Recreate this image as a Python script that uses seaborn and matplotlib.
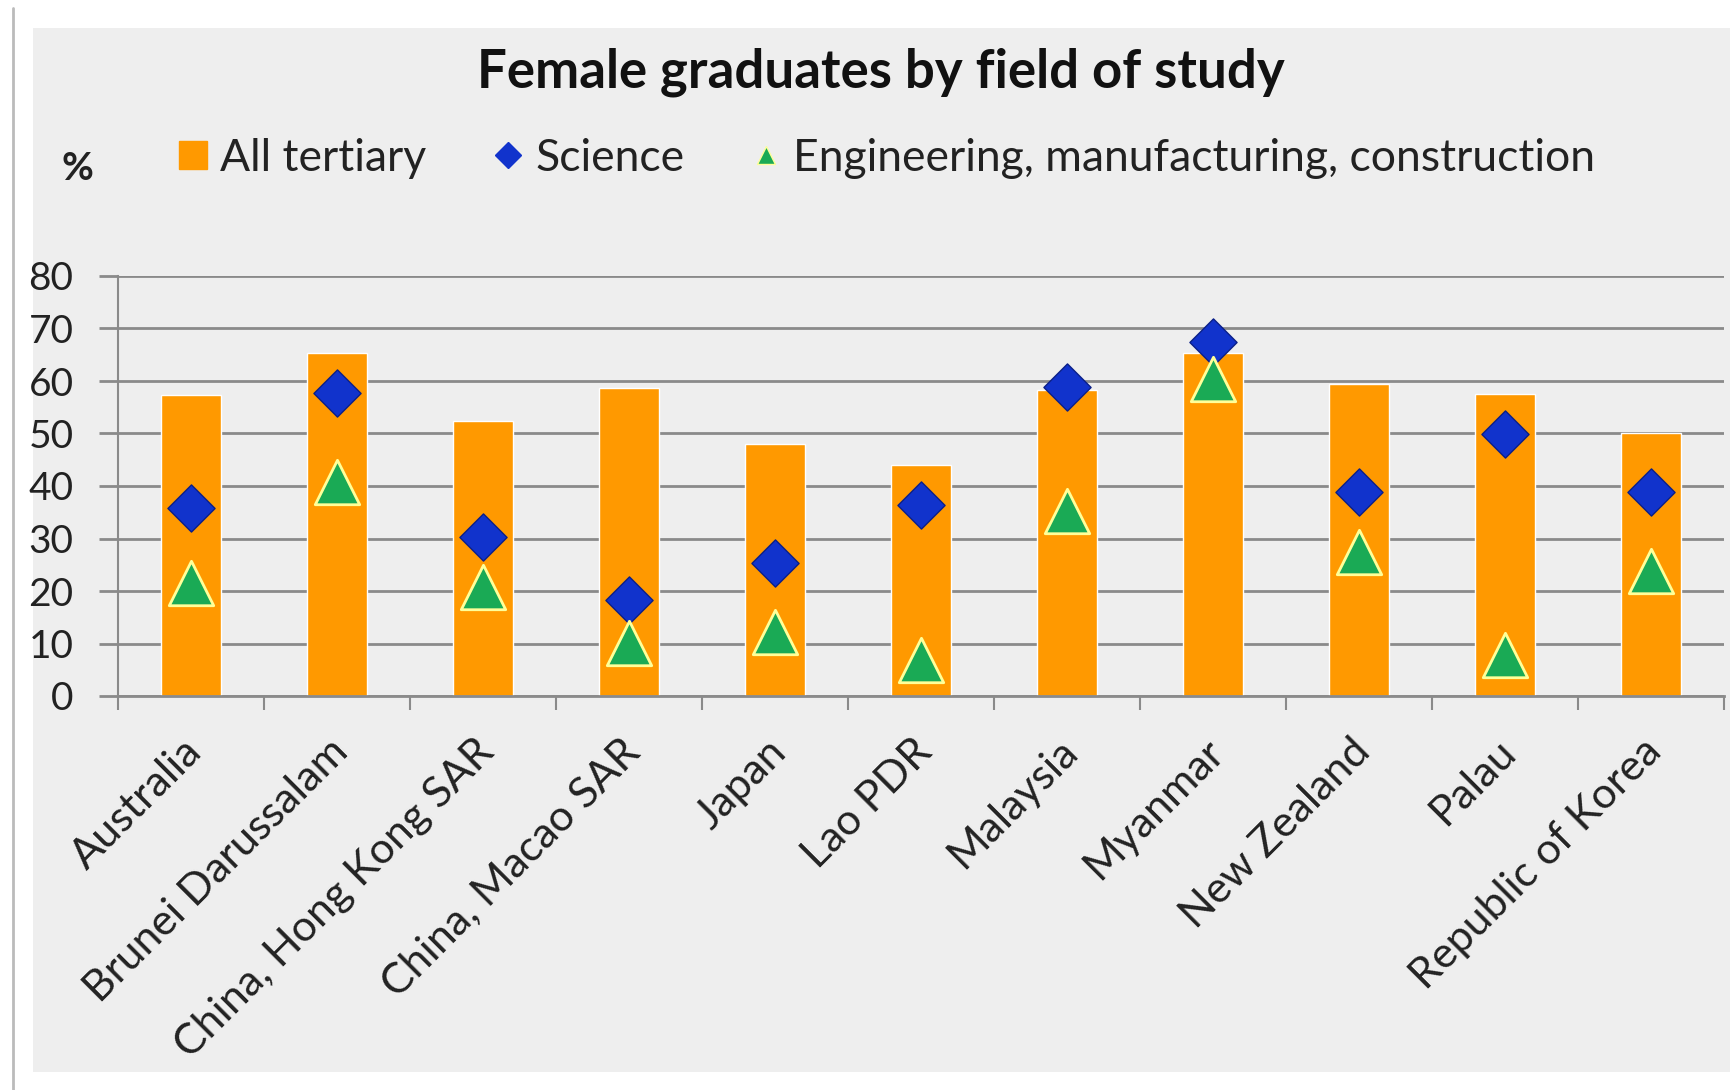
import matplotlib
matplotlib.use("Agg")
import matplotlib.pyplot as plt
import matplotlib.transforms as mtransforms
import seaborn as sns
import pandas as pd
from matplotlib.patches import Rectangle
from matplotlib.lines import Line2D

# Dados
paises = ["Australia", "Brunei Darussalam", "China, Hong Kong SAR", "China, Macao SAR",
          "Japan", "Lao PDR", "Malaysia", "Myanmar", "New Zealand", "Palau",
          "Republic of Korea"]
all_tertiary = [57.3, 65.3, 52.4, 58.7, 48.0, 44.0, 58.3, 65.3, 59.4, 57.5, 50.1]
science = [35.8, 57.7, 30.3, 18.3, 25.3, 36.4, 58.9, 67.4, 38.9, 49.9, 38.9]
engineering = [21.5, 40.8, 20.8, 10.1, 12.2, 6.9, 35.2, 60.4, 27.4, 7.8, 23.8]
y_ticks = [0, 10, 20, 30, 40, 50, 60, 70, 80]

df = pd.DataFrame({"pais": paises, "all": all_tertiary,
                   "sci": science, "eng": engineering})

sns.set_style("white")
plt.rcParams["font.family"] = ["Lato", "DejaVu Sans"]

LARANJA = "#ff9900"
AZUL = "#1133cc"
VERDE = "#1aaa55"
CINZA_FUNDO = "#eeeeee"
CINZA_LINHA = "#8a8a8a"

fig = plt.figure(figsize=(17.31, 10.90), dpi=100, facecolor="white")
# fundo cinza da área do gráfico
fig.patches.append(Rectangle((33 / 1731, 1 - 1072 / 1090), 1 - 33 / 1731, (1072 - 28) / 1090,
                             transform=fig.transFigure, facecolor=CINZA_FUNDO,
                             edgecolor="none", zorder=-2))
fig.lines.append(Line2D([13 / 1731, 13 / 1731], [0, 1 - 8 / 1090], transform=fig.transFigure,
                        color="#bbbbbb", lw=2, zorder=-2))

ax = fig.add_axes([118 / 1731, 1 - 696 / 1090, (1724 - 118) / 1731, (696 - 276) / 1090])
ax.set_facecolor(CINZA_FUNDO)

sns.barplot(data=df, x="pais", y="all", color=LARANJA, width=0.41,
            saturation=1, ax=ax, zorder=2)
sns.stripplot(data=df, x="pais", y="sci", jitter=False, marker="D", s=24,
              color=AZUL, edgecolor="#0a1f88", linewidth=1, ax=ax, zorder=3)
sns.stripplot(data=df, x="pais", y="eng", jitter=False, marker="^", s=32,
              color=VERDE, edgecolor="#ffff99", linewidth=2, ax=ax, zorder=4)

ax.set_xlim(-0.5, len(paises) - 0.5)
ax.set_ylim(0, 80)
ax.set_yticks(y_ticks)
ax.yaxis.grid(True, color=CINZA_LINHA, lw=2)
ax.set_axisbelow(True)
for s in ["top", "right"]:
    ax.spines[s].set_visible(False)
ax.spines["left"].set_color(CINZA_LINHA)
ax.spines["bottom"].set_color(CINZA_LINHA)
ax.spines["left"].set_linewidth(1.5)
ax.spines["bottom"].set_linewidth(2)

ax.tick_params(axis="y", length=14, width=2, color=CINZA_LINHA, labelsize=28,
               pad=18, left=True)
ax.tick_params(axis="x", which="major", length=0, labelsize=31, pad=26)
# marcas entre as categorias
ax.set_xticks([i + 0.5 for i in range(-1, len(paises))], minor=True)
ax.tick_params(axis="x", which="minor", length=10, width=1.5, color=CINZA_LINHA, bottom=True)
deslocamento = mtransforms.ScaledTranslation(-9 / 100, 0, fig.dpi_scale_trans)
for lbl in ax.get_xticklabels():
    lbl.set_rotation(45)
    lbl.set_ha("right")
    lbl.set_rotation_mode("anchor")
    lbl.set_color("#222222")
    lbl.set_transform(lbl.get_transform() + deslocamento)
plt.setp(ax.get_yticklabels(), color="#222222")
ax.set_xlabel("")
ax.set_ylabel("")

fig.text(881 / 1731, 1 - 72 / 1090, "Female graduates by field of study",
         ha="center", va="center", fontsize=38, fontweight="bold", color="#111111")
fig.text(77 / 1731, 1 - 168 / 1090, "%", ha="center", va="center",
         fontsize=28, fontweight="bold", color="#222222")

handles = [
    Line2D([], [], marker="s", ls="none", color=LARANJA, markersize=20),
    Line2D([], [], marker="D", ls="none", color=AZUL, markersize=13),
    Line2D([], [], marker="^", ls="none", color=VERDE, markeredgecolor="#ffff99",
           markersize=13),
]
fig.legend(handles, ["All tertiary", "Science", "Engineering, manufacturing, construction"],
           loc="center left", bbox_to_anchor=(140 / 1731, 1 - 158 / 1090), ncol=3,
           frameon=False, fontsize=32, handlelength=0.6, handletextpad=0.3,
           columnspacing=1.55, labelcolor="#222222")

fig.savefig("out.png", dpi=100, facecolor="white")
